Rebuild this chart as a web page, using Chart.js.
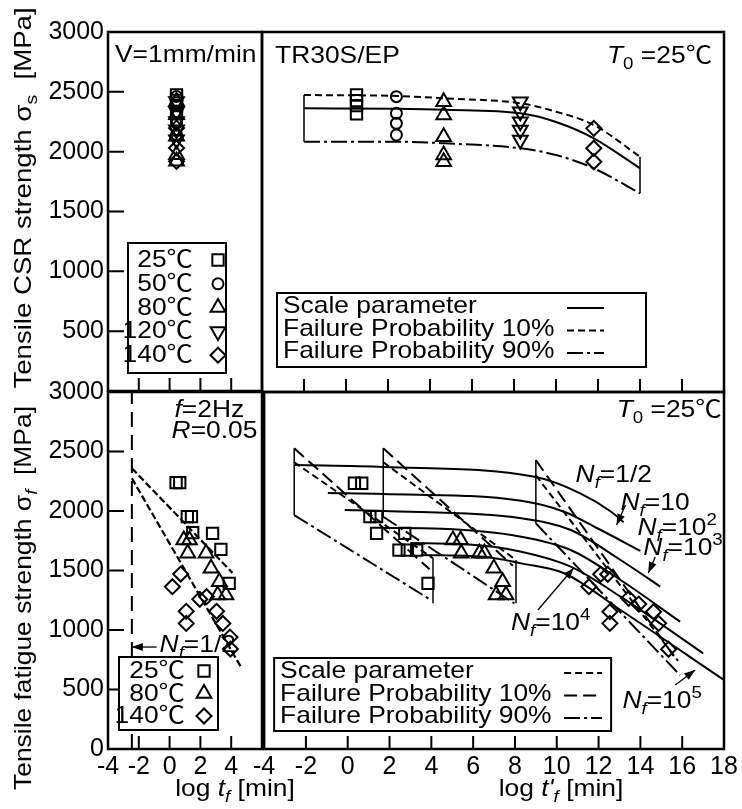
<!DOCTYPE html>
<html>
<head>
<meta charset="utf-8">
<script src="https://cdn.jsdelivr.net/npm/chart.js@4.4.1/dist/chart.umd.min.js"></script>
<style>
  body { margin: 0; background: #fff; }
  #wrap { position: relative; width: 742px; height: 809px; }
  #wrap canvas { position: absolute; }
</style>
</head>
<body>
<div id="wrap">
  <canvas id="csrRaw" width="300" height="410" style="left:0;top:0"></canvas>
  <canvas id="csrMaster" width="492" height="410" style="left:250px;top:0"></canvas>
  <canvas id="fatRaw" width="310" height="439" style="left:0;top:370px"></canvas>
  <canvas id="fatMaster" width="492" height="439" style="left:250px;top:370px"></canvas>
</div>
<script>
document.addEventListener('DOMContentLoaded', () => {
  const FONT = "'Liberation Sans', Arial, 'Noto Sans CJK JP', sans-serif";
  Chart.defaults.font.family = FONT;
  Chart.defaults.color = '#000';

  // --- axis ticks ---
  const rawTicks = [-2, 0, 2, 4];
  const masterTicks = [-2, 0, 2, 4, 6, 8, 10, 12, 14, 16];
  const stressTicks = [500, 1000, 1500, 2000, 2500];

  // --- tensile CSR strength (V = 1mm/min) ---
  const csrRawLogT = 0.45;
  const csrLogT25 = 0.5, csrLogT50 = 2.4, csrLogT80 = 4.65, csrLogT120 = 8.3, csrLogT140 = 11.8;
  const csr25 = [2475, 2428, 2386, 2317];
  const csr50 = [2461, 2322, 2239, 2142];
  const csr80 = [2419, 2308, 2128, 1975, 1919];
  const csr120 = [2419, 2336, 2253, 2183, 2100];
  const csr140 = [2197, 2031, 1919];

  const csrCurveX = [-2, 2.4, 4.7, 8.3, 10, 11.8, 14];
  const csrScale = [2364, 2360, 2352, 2322, 2250, 2114, 1864];
  const csrP10 = [2475, 2467, 2447, 2406, 2336, 2225, 1961];
  const csrP90 = [2086, 2086, 2072, 2031, 1975, 1864, 1656];
  const csrEdgeX = [-2, 14];
  const csrEdgeTop = [2475, 1961];
  const csrEdgeBottom = [2086, 1656];

  // --- tensile fatigue strength (f = 2Hz, R = 0.05), raw log tf ---
  const fat25X = [0.42, 0.66, 1.15, 1.42, 1.5, 2.79, 3.33, 3.87];
  const fat25Y = [2238, 2238, 1952, 1952, 1818, 1812, 1678, 1392];
  const fat80X = [0.92, 1.29, 1.18, 2.37, 2.69, 3.23, 3.12, 3.66];
  const fat80Y = [1756, 1756, 1644, 1644, 1518, 1406, 1294, 1294];
  const fat140X = [0.72, 0.18, 1.08, 1.08, 1.96, 2.4, 3.05, 3.46, 3.92, 3.95];
  const fat140Y = [1470, 1364, 1157, 1055, 1258, 1280, 1157, 1055, 940, 840];
  const nfHalfLogT = -2.45;
  const fatLineAX = [-2.45, 4.08], fatLineAY = [2359, 1480];
  const fatLineBX = [-2.45, 4.62], fatLineBY = [2275, 692];

  // --- fatigue master curves, reduced log t'f ---
  const mst25X = [0.32, 0.67, 1.06, 1.38, 1.38, 2.73, 2.45, 2.85, 3.3, 3.84];
  const mst25Y = [2233, 2233, 1952, 1952, 1812, 1812, 1672, 1672, 1672, 1392];
  const mst80X = [5.03, 5.4, 5.43, 6.3, 6.54, 6.99, 7.41, 7.1, 7.57];
  const mst80Y = [1756, 1756, 1644, 1644, 1644, 1518, 1406, 1294, 1294];
  const mst140X = [12.1, 12.44, 11.54, 12.54, 12.54, 13.44, 13.92, 14.63, 14.87, 15.35];
  const mst140Y = [1468, 1468, 1364, 1154, 1056, 1266, 1218, 1154, 1056, 838];

  const nfHalfX = [-2.52, 1.7, 9.0, 11.1, 12.6, 13.2];
  const nfHalfY = [2386, 2370, 2285, 2150, 1994, 1905];
  const nf1X = [-0.95, 1.7, 8.3, 10.35, 11.94, 14.0];
  const nf1Y = [2151, 2143, 2086, 1994, 1855, 1665];
  const nf2X = [-0.14, 1.7, 8.3, 10.67, 13.05, 14.95];
  const nf2Y = [2008, 2000, 1939, 1840, 1588, 1364];
  const nf3X = [1.6, 4.5, 8.3, 10.67, 13.05, 15.9];
  const nf3Y = [1857, 1850, 1784, 1672, 1420, 1070];
  const nf4X = [3.0, 5.5, 8.3, 10.67, 13.05, 17.0];
  const nf4Y = [1731, 1722, 1658, 1532, 1280, 804];
  const nf5X = [3.5, 6.5, 8.3, 10.33, 13.05, 18.0];
  const nf5Y = [1630, 1615, 1560, 1479, 1168, 580];

  const g25P10X = [-2.56, 3.92], g25P10Y = [2527, 1510];
  const g25ScX = [-2.56, 4.08], g25ScY = [2410, 1602];
  const g25P90X = [-2.56, 4.0], g25P90Y = [1966, 1250];
  const g80P10X = [1.7, 7.9], g80P10Y = [2527, 1540];
  const g80ScX = [1.7, 8.05], g80ScY = [2410, 1588];
  const g80P90X = [1.7, 7.97], g80P90Y = [1952, 1224];
  const g140P10X = [9.0, 15.6], g140P10Y = [2428, 780];
  const g140ScX = [9.0, 15.8], g140ScY = [2300, 740];
  const g140P90X = [9.0, 15.9], g140P90Y = [1896, 620];
  const mstEdgeX = [-2.56, 4.08, 1.7, 8.05, 9.0];
  const mstEdgeTop = [2527, 1602, 2527, 1588, 2428];
  const mstEdgeBottom = [1966, 1224, 1952, 1224, 1896];

  // --- helpers ---
  const pts = (xs, ys) => xs.map((x, i) => ({ x, y: ys[i] }));
  const col = (x, ys) => ys.map(y => ({ x, y }));
  const edges = (xs, tops, bottoms) => xs.map((x, i) => segment([{ x, y: tops[i] }, { x, y: bottoms[i] }], [], 1.5));

  const SQUARE = ['rect', 8, 0];
  const CIRCLE = ['circle', 5.5, 0];
  const TRI = ['triangle', 8.5, 0];
  const TRI_DOWN = ['triangle', 8.5, 180];
  const DIAMOND = ['rectRot', 7.5, 0];

  const DASH_SHORT = [7, 4];
  const DASH_LONG = [13, 6];
  const DASH_DOT = [16, 4, 3, 4];

  function marks(data, m) {
    return { data, showLine: false, pointStyle: m[0], pointRadius: m[1], pointRotation: m[2],
      pointBorderColor: '#000', pointBackgroundColor: 'rgba(0,0,0,0)', pointBorderWidth: 2 };
  }
  function curve(data, dash, width) {
    return { data, showLine: true, borderColor: '#000', borderWidth: width || 2, borderDash: dash || [],
      pointRadius: 0, cubicInterpolationMode: 'monotone', fill: false };
  }
  function segment(data, dash, width) {
    return { data, showLine: true, borderColor: '#000', borderWidth: width || 2, borderDash: dash || [],
      pointRadius: 0, tension: 0, fill: false };
  }

  // text with italic / sub / superscript pieces, slightly widened
  const TEXT_SIZE = 24, TEXT_STRETCH = 1.1;
  function richText(ctx, segs, x, y, size, align, stretch) {
    const k = stretch || TEXT_STRETCH;
    const items = segs.map(([text, st = '']) => {
      const small = st.includes('_') || st.includes('^');
      const fs = small ? Math.round(size * 0.7) : size;
      const font = (st.includes('i') ? 'italic ' : '') + fs + 'px ' + FONT;
      ctx.font = font;
      const dy = st.includes('_') ? size * 0.25 : st.includes('^') ? -size * 0.42 : 0;
      return { text, font, dy, w: ctx.measureText(text).width * k };
    });
    const total = items.reduce((s, it) => s + it.w, 0);
    let cx = align === 'right' ? x - total : align === 'center' ? x - total / 2 : x;
    ctx.textAlign = 'left';
    ctx.textBaseline = 'alphabetic';
    items.forEach(it => {
      ctx.save();
      ctx.translate(cx, y + it.dy);
      ctx.scale(k, 1);
      ctx.font = it.font;
      ctx.fillText(it.text, 0, 0);
      ctx.restore();
      cx += it.w;
    });
  }

  function arrow(ctx, x1, y1, x2, y2) {
    ctx.beginPath(); ctx.moveTo(x1, y1); ctx.lineTo(x2, y2); ctx.stroke();
    const a = Math.atan2(y2 - y1, x2 - x1), L = 11, W = 4;
    ctx.beginPath();
    ctx.moveTo(x2, y2);
    ctx.lineTo(x2 - L * Math.cos(a) + W * Math.sin(a), y2 - L * Math.sin(a) - W * Math.cos(a));
    ctx.lineTo(x2 - L * Math.cos(a) - W * Math.sin(a), y2 - L * Math.sin(a) + W * Math.cos(a));
    ctx.closePath(); ctx.fill();
  }

  function drawLegend(ctx, a, lg) {
    const [bx, by, bw, bh] = lg.box;
    ctx.save();
    ctx.fillStyle = '#fff';
    ctx.fillRect(a.left + bx, a.top + by, bw, bh);
    ctx.lineWidth = 2;
    ctx.strokeRect(a.left + bx, a.top + by, bw, bh);
    ctx.fillStyle = '#000';
    lg.rows.forEach((r, i) => {
      const base = a.top + lg.base + i * lg.step;
      richText(ctx, r.segs, a.left + lg.textX, base, TEXT_SIZE, lg.align);
      if (r.dash) {
        ctx.save();
        ctx.setLineDash(r.dash); ctx.lineWidth = 2;
        ctx.beginPath(); ctx.moveTo(a.left + lg.sample[0], base - 5); ctx.lineTo(a.left + lg.sample[1], base - 5); ctx.stroke();
        ctx.restore();
      }
      if (r.mark) {
        ctx.save();
        ctx.lineWidth = 2; ctx.fillStyle = 'rgba(0,0,0,0)';
        Chart.helpers.drawPoint(ctx, { pointStyle: r.mark[0], radius: r.mark[1], rotation: r.mark[2], borderWidth: 2 },
          a.left + lg.markX, base - 7);
        ctx.restore();
      }
    });
    ctx.restore();
  }

  // frame, inward ticks, labels and legend of one panel
  const panelDecor = {
    id: 'panelDecor',
    afterDraw(chart, args, o) {
      const { ctx, chartArea: a } = chart;
      const sx = v => chart.scales.x.getPixelForValue(v);
      const sy = v => chart.scales.y.getPixelForValue(v);
      ctx.save();
      ctx.strokeStyle = '#000';
      ctx.fillStyle = '#000';
      ctx.lineWidth = 2;
      ctx.beginPath();
      (o.xTicks || []).forEach(v => { ctx.moveTo(sx(v), a.bottom); ctx.lineTo(sx(v), a.bottom - 13); });
      (o.yTicks || []).forEach(v => { ctx.moveTo(a.left, sy(v)); ctx.lineTo(a.left + 16, sy(v)); });
      ctx.stroke();
      ctx.lineWidth = 2.5;
      ctx.strokeRect(a.left, a.top, a.right - a.left, a.bottom - a.top);
      (o.texts || []).forEach(t => richText(ctx, t.segs, sx(t.x), sy(t.y), TEXT_SIZE, t.align));
      ctx.lineWidth = 1.3;
      (o.arrows || []).forEach(r => arrow(ctx, sx(r[0]), sy(r[1]), sx(r[2]), sy(r[3])));
      if (o.legend) drawLegend(ctx, a, o.legend);
      (o.titles || []).forEach(t => {
        ctx.save();
        ctx.translate(t.at[0], t.at[1]);
        if (t.rotate) ctx.rotate(-Math.PI / 2);
        richText(ctx, t.segs, 0, 0, TEXT_SIZE, 'center', t.stretch);
        ctx.restore();
      });
      ctx.restore();
    }
  };
  Chart.register(panelDecor);

  const tickFont = { family: FONT, size: 25 };
  const stressAxis = (hideZero) => ({
    type: 'linear', min: 0, max: 3000, position: 'left',
    afterFit: s => { s.width = 108; },
    grid: { display: false, drawTicks: false }, border: { display: false },
    ticks: { stepSize: 500, padding: 4, font: tickFont, color: '#000', autoSkip: false,
      callback: v => (hideZero && v === 0) ? '' : String(v) }
  });
  const timeAxis = (min, max, hideLast) => ({
    type: 'linear', min, max, position: 'bottom',
    afterFit: s => { s.height = 60; },
    grid: { display: false, drawTicks: false }, border: { display: false },
    ticks: { stepSize: 2, padding: 3, font: tickFont, color: '#000', autoSkip: false, maxRotation: 0,
      callback: v => (hideLast && v === max) ? '' : String(v) }
  });
  const hidden = (min, max) => ({ type: 'linear', min, max, display: false });

  function makePanel(id, datasets, scales, padding, decor) {
    return new Chart(document.getElementById(id), {
      type: 'scatter',
      data: { datasets },
      options: {
        responsive: false, animation: false, events: [],
        layout: { padding },
        scales,
        plugins: { legend: { display: false }, tooltip: { enabled: false }, panelDecor: decor }
      }
    });
  }

  const T0 = [['T', 'i'], ['0', '_'], [' =25℃']];

  // --- CSR strength, raw ---
  makePanel('csrRaw', [
    marks(col(csrRawLogT, csr25), SQUARE),
    marks(col(csrRawLogT, csr50), CIRCLE),
    marks(col(csrRawLogT, csr80), TRI),
    marks(col(csrRawLogT, csr120), TRI_DOWN),
    marks(col(csrRawLogT, csr140), DIAMOND)
  ], { x: hidden(-4, 6), y: stressAxis(true) }, { top: 32, right: 38, bottom: 18, left: 0 }, {
    xTicks: rawTicks, yTicks: stressTicks,
    texts: [{ x: -3.55, y: 2750, segs: [['V=1mm/min']] }],
    legend: { box: [20, 211, 98, 130], base: 235, step: 23.8, textX: 85, align: 'right', markX: 110, rows: [
      { segs: [['25℃']], mark: SQUARE },
      { segs: [['50℃']], mark: CIRCLE },
      { segs: [['80℃']], mark: TRI },
      { segs: [['120℃']], mark: TRI_DOWN },
      { segs: [['140℃']], mark: DIAMOND }
    ] },
    titles: [{ at: [31, 198], rotate: true, stretch: 1.15, segs: [['Tensile CSR strength '], ['σ'], ['s', '_'], ['  [MPa]']] }]
  });

  // --- CSR strength, master curve ---
  makePanel('csrMaster', [
    curve(pts(csrCurveX, csrScale)),
    curve(pts(csrCurveX, csrP10), DASH_SHORT),
    curve(pts(csrCurveX, csrP90), DASH_DOT),
    ...edges(csrEdgeX, csrEdgeTop, csrEdgeBottom),
    marks(col(csrLogT25, csr25), SQUARE),
    marks(col(csrLogT50, csr50), CIRCLE),
    marks(col(csrLogT80, csr80), TRI),
    marks(col(csrLogT120, csr120), TRI_DOWN),
    marks(col(csrLogT140, csr140), DIAMOND)
  ], { x: hidden(-4, 18), y: hidden(0, 3000) }, { top: 32, right: 18, bottom: 18, left: 12 }, {
    xTicks: masterTicks,
    texts: [
      { x: -3.38, y: 2742, segs: [['TR30S/EP']] },
      { x: 17.43, y: 2742, segs: T0, align: 'right' }
    ],
    legend: { box: [15, 261, 369, 74], base: 281, step: 22.5, textX: 21, align: 'left', sample: [305, 342], rows: [
      { segs: [['Scale parameter']], dash: [] },
      { segs: [['Failure Probability 10%']], dash: DASH_SHORT },
      { segs: [['Failure Probability 90%']], dash: DASH_DOT }
    ] }
  });

  // --- fatigue strength, raw ---
  makePanel('fatRaw', [
    segment(col(nfHalfLogT, [0, 3000]), [15, 8], 2),
    segment(pts(fatLineAX, fatLineAY), [7, 3], 2.2),
    segment(pts(fatLineBX, fatLineBY), [7, 3], 2.2),
    marks(pts(fat25X, fat25Y), SQUARE),
    marks(pts(fat80X, fat80Y), TRI),
    marks(pts(fat140X, fat140Y), DIAMOND)
  ], { x: timeAxis(-4, 6, true), y: stressAxis(false) }, { top: 22, right: 48, bottom: 0, left: 0 }, {
    xTicks: rawTicks, yTicks: stressTicks,
    texts: [
      { x: 0.32, y: 2790, segs: [['f', 'i'], ['=2Hz']] },
      { x: 0.13, y: 2613, segs: [['R', 'i'], ['=0.05']] },
      { x: -0.65, y: 815, segs: [['N', 'i'], ['f', 'i_'], ['=1/2']] }
    ],
    arrows: [[-0.84, 857, nfHalfLogT, 857]],
    legend: { box: [11, 265, 99, 73], base: 286, step: 22.5, textX: 77, align: 'right', markX: 96, rows: [
      { segs: [['25℃']], mark: SQUARE },
      { segs: [['80℃']], mark: TRI },
      { segs: [['140℃']], mark: DIAMOND }
    ] },
    titles: [
      { at: [31, 228], rotate: true, segs: [['Tensile fatigue strength '], ['σ'], ['f', 'i_'], ['  [MPa]']] },
      { at: [235, 426], segs: [['log '], ['t', 'i'], ['f', 'i_'], [' [min]']] }
    ]
  });

  // --- fatigue strength, master curves ---
  makePanel('fatMaster', [
    curve(pts(nfHalfX, nfHalfY)),
    curve(pts(nf1X, nf1Y)),
    curve(pts(nf2X, nf2Y)),
    curve(pts(nf3X, nf3Y)),
    curve(pts(nf4X, nf4Y)),
    curve(pts(nf5X, nf5Y)),
    segment(pts(g25P10X, g25P10Y), DASH_LONG),
    segment(pts(g25ScX, g25ScY), DASH_SHORT),
    segment(pts(g25P90X, g25P90Y), DASH_DOT),
    segment(pts(g80P10X, g80P10Y), DASH_LONG),
    segment(pts(g80ScX, g80ScY), DASH_SHORT),
    segment(pts(g80P90X, g80P90Y), DASH_DOT),
    segment(pts(g140P10X, g140P10Y), DASH_LONG),
    segment(pts(g140ScX, g140ScY), DASH_SHORT),
    segment(pts(g140P90X, g140P90Y), DASH_DOT),
    ...edges(mstEdgeX, mstEdgeTop, mstEdgeBottom),
    marks(pts(mst25X, mst25Y), SQUARE),
    marks(pts(mst80X, mst80Y), TRI),
    marks(pts(mst140X, mst140Y), DIAMOND)
  ], { x: timeAxis(-4, 18, false), y: hidden(0, 3000) }, { top: 22, right: 18, bottom: 0, left: 12 }, {
    xTicks: masterTicks,
    texts: [
      { x: 17.89, y: 2792, segs: T0, align: 'right' },
      { x: 10.9, y: 2244, segs: [['N', 'i'], ['f', 'i_'], ['=1/2']] },
      { x: 13.05, y: 2008, segs: [['N', 'i'], ['f', 'i_'], ['=10']] },
      { x: 13.86, y: 1798, segs: [['N', 'i'], ['f', 'i_'], ['=10'], ['2', '^']] },
      { x: 14.14, y: 1630, segs: [['N', 'i'], ['f', 'i_'], ['=10'], ['3', '^']] },
      { x: 7.81, y: 1000, segs: [['N', 'i'], ['f', 'i_'], ['=10'], ['4', '^']] },
      { x: 13.14, y: 345, segs: [['N', 'i'], ['f', 'i_'], ['=10'], ['5', '^']] }
    ],
    arrows: [
      [13.29, 2050, 12.86, 1882],
      [14.71, 1613, 14.38, 1479],
      [9.1, 1168, 10.81, 1521],
      [15.67, 538, 16.62, 664]
    ],
    legend: { box: [10, 266, 337, 73], base: 286, step: 22.5, textX: 16, align: 'left', sample: [300, 338], rows: [
      { segs: [['Scale parameter']], dash: DASH_SHORT },
      { segs: [['Failure Probability 10%']], dash: DASH_LONG },
      { segs: [['Failure Probability 90%']], dash: DASH_DOT }
    ] },
    titles: [{ at: [311, 426], segs: [['log '], ["t'", 'i'], ['f', 'i_'], [' [min]']] }]
  });
});
</script>
</body>
</html>
